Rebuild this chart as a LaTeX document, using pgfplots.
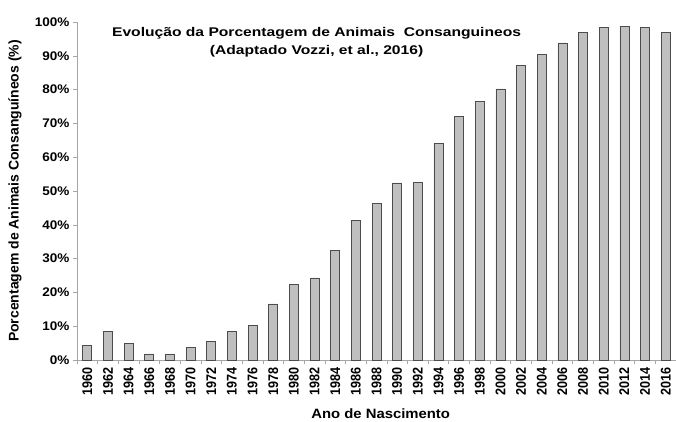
\documentclass[border=0pt]{standalone}
\usepackage{fontspec}
\setmainfont{Liberation Sans}
\newfontfamily\titlefont{Liberation Sans}[FakeStretch=1.24]
\newfontfamily\ytfont{Liberation Sans}[FakeStretch=1.08]
\newfontfamily\xlfont{Liberation Sans}[FakeStretch=1.1]
\newfontfamily\xtfont{Liberation Sans}[FakeStretch=0.9]
\usepackage{pgfplots}
\pgfplotsset{compat=1.18}

\begin{document}
\begin{tikzpicture}
\begin{axis}[
    scale only axis,
    width=599pt, height=338pt,
    xmin=-0.5, xmax=28.5, ymin=0, ymax=100,
    enlargelimits=false,
    clip=false,
    axis x line=bottom, axis y line=left,
    axis line style={-, draw=gray!70, line width=0.8pt},
    ybar, bar width=9pt,
    tick align=outside,
    xtick={0,...,28},
    xticklabels={1960,1962,1964,1966,1968,1970,1972,1974,1976,1978,1980,1982,1984,1986,1988,1990,1992,1994,1996,1998,2000,2002,2004,2006,2008,2010,2012,2014,2016},
    major x tick style={draw=none},
    minor xtick={-0.5,0.5,...,28.5},
    minor x tick style={draw=gray!70, line width=0.6pt},
    minor tick length=4pt,
    ytick={0,10,...,100},
    yticklabels={0\%,10\%,20\%,30\%,40\%,50\%,60\%,70\%,80\%,90\%,100\%},
    ytick style={draw=gray!70, line width=0.6pt},
    major tick length=4pt,
    x tick label style={rotate=90, anchor=east, font=\xtfont\bfseries\fontsize{14}{14}\selectfont},
    y tick label style={font=\ytfont\bfseries\fontsize{12.5}{13}\selectfont},
    xlabel={Ano de Nascimento},
    xlabel style={at={(rel axis cs:0.507,0)}, anchor=center, yshift=-54pt,
      font=\xlfont\bfseries\fontsize{13.5}{14}\selectfont},
    ylabel={Porcentagem de Animais Consanguíneos (\%)},
    ylabel style={at={(rel axis cs:0,0.5)}, anchor=center, yshift=62pt,
      font=\bfseries\fontsize{14}{14}\selectfont},
]
\addplot[fill=gray!50, draw=gray!60!black, line width=0.7pt] coordinates {
(0,4.3) (1,8.5) (2,4.9) (3,1.8) (4,1.8) (5,3.6) (6,5.4) (7,8.5) (8,10.2) (9,16.6)
(10,22.3) (11,24.3) (12,32.3) (13,41.2) (14,46.2) (15,52.4) (16,52.5) (17,64.2)
(18,72.1) (19,76.5) (20,80.2) (21,87.2) (22,90.3) (23,93.8) (24,97.0) (25,98.4)
(26,98.7) (27,98.4) (28,97.0)};
\node[anchor=north, align=center, font=\titlefont\bfseries\fontsize{12.6}{18}\selectfont]
  at (rel axis cs:0.40,0.995) {Evolução da Porcentagem de Animais~~Consanguineos\\(Adaptado Vozzi, et al., 2016)};
\end{axis}
\pgfresetboundingbox
\path (current axis.south west) ++(-77pt,-61pt) rectangle ++(676pt,421pt);
\end{tikzpicture}
\end{document}
